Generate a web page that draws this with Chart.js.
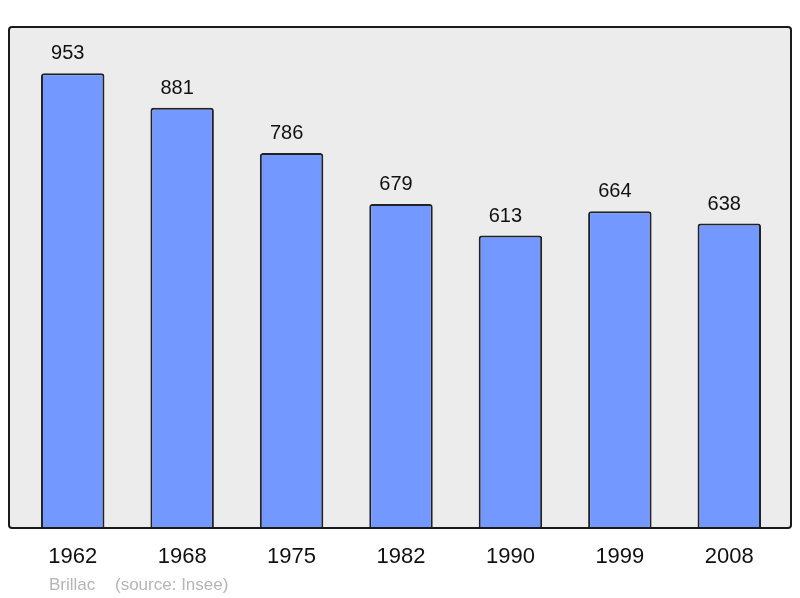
<!DOCTYPE html>
<html>
<head>
<meta charset="utf-8">
<script src="https://cdn.jsdelivr.net/npm/chart.js@4/dist/chart.umd.min.js"></script>
<style>
html,body{margin:0;padding:0;background:#fff;}
#wrap{width:800px;height:598px;}
</style>
</head>
<body>
<div id="wrap"><canvas id="c" width="800" height="598"></canvas></div>
<script>
const categories = ["1962","1968","1975","1982","1990","1999","2008"];
const population = [953, 881, 786, 679, 613, 664, 638];
const footerName = "Brillac";
const footerSource = "(source: Insee)";

const FONT = "'Liberation Sans', Arial, sans-serif";

const framePlugin = {
  id: 'frame',
  beforeDraw(chart) {
    const ctx = chart.ctx;
    const a = chart.chartArea;
    const x0 = 9, x1 = 791, y0 = a.top, y1 = a.bottom;
    ctx.save();
    ctx.beginPath();
    ctx.roundRect(x0, y0, x1 - x0, y1 - y0, 3);
    ctx.fillStyle = '#ececec';
    ctx.fill();
    ctx.restore();
  },
  afterDatasetsDraw(chart) {
    const ctx = chart.ctx;
    const a = chart.chartArea;
    const x0 = 9, x1 = 791, y0 = a.top, y1 = a.bottom;
    ctx.save();
    ctx.beginPath();
    ctx.roundRect(x0, y0, x1 - x0, y1 - y0, 3);
    ctx.lineWidth = 2;
    ctx.strokeStyle = '#1a1a1a';
    ctx.stroke();
    // value labels
    const meta = chart.getDatasetMeta(0);
    ctx.fillStyle = '#111';
    ctx.font = '20px ' + FONT;
    ctx.textAlign = 'center';
    ctx.textBaseline = 'alphabetic';
    meta.data.forEach((bar, i) => {
      ctx.fillText(String(population[i]), bar.x - 5, bar.y - 14);
    });
    // footer
    ctx.fillStyle = '#b5b5b5';
    ctx.font = '17px ' + FONT;
    ctx.textAlign = 'left';
    ctx.fillText(footerName, 49, 590);
    ctx.fillText(footerSource, 115, 590);
    ctx.restore();
  }
};

new Chart(document.getElementById('c'), {
  type: 'bar',
  data: {
    labels: categories,
    datasets: [{
      data: population,
      backgroundColor: '#7398ff',
      borderColor: '#222',
      borderWidth: 2,
      borderRadius: 3,
      barPercentage: 0.58,
      categoryPercentage: 1.0
    }]
  },
  options: {
    responsive: false,
    animation: false,
    devicePixelRatio: 1,
    layout: { padding: { left: 18, right: 16, top: 27, bottom: 0 } },
    plugins: { legend: { display: false }, tooltip: { enabled: false } },
    scales: {
      y: { display: false, min: 0, max: 1050 },
      x: {
        grid: { display: false, drawTicks: false },
        border: { display: false },
        ticks: { color: '#111', font: { size: 22, family: FONT }, padding: 16, maxRotation: 0 },
        afterFit(scale) { scale.height = 70; }
      }
    }
  },
  plugins: [framePlugin]
});
</script>
</body>
</html>
